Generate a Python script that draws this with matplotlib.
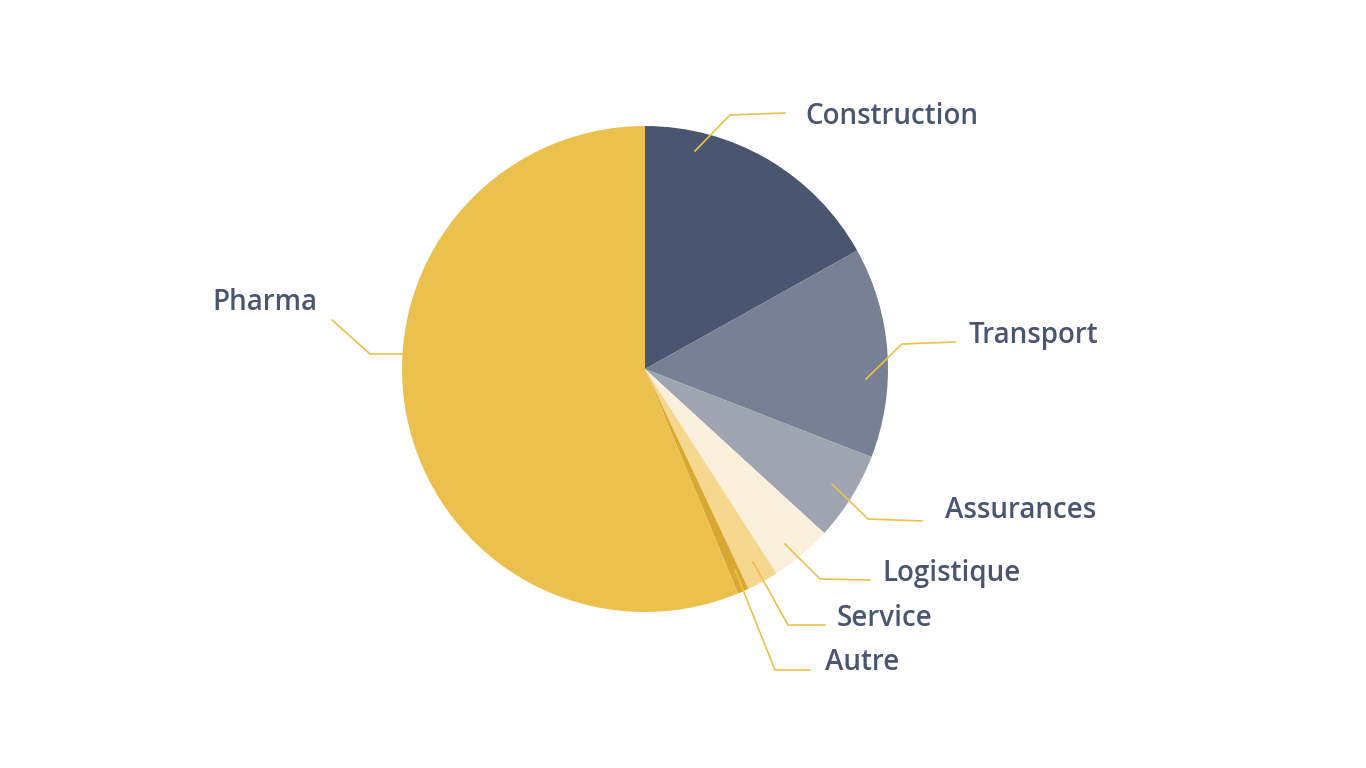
import matplotlib
matplotlib.use("Agg")
import matplotlib.pyplot as plt

categories = ["Construction", "Transport", "Assurances", "Logistique", "Service", "Autre", "Pharma"]
values = [16.9, 14.0, 5.9, 4.1, 2.1, 0.75, 56.25]
colors = ["#4a5670", "#778193", "#9ea4b0", "#faf0dc", "#f5d88e", "#d9a830", "#ecc04c"]

# leader layout in pixel coords (x, y from top): start, elbow, end, text position, alignment
leaders = {
    "Construction": [(695, 151), (730, 115), (785, 113), (805, 117), "left"],
    "Transport": [(866, 379), (902, 344), (955, 342), (969, 336), "left"],
    "Assurances": [(832, 484), (868, 519), (922, 521), (945, 510), "left"],
    "Logistique": [(785, 544), (820, 579), (870, 580), (882, 573), "left"],
    "Service": [(753, 562), (788, 625), (825, 625), (837, 618), "left"],
    "Autre": [(735, 570), (775, 670), (810, 670), (825, 663), "left"],
    "Pharma": [(403, 354), (370, 354), (332, 320), (317, 303), "right"],
}

H = 768
fig = plt.figure(figsize=(13.66, 7.68), dpi=100)
ax = fig.add_axes([0, 0, 1, 1])

ax.pie(values, colors=colors, startangle=90, counterclock=False,
       center=(645, H - 369), radius=243, wedgeprops=dict(linewidth=0),
       frame=True)
ax.set_xlim(0, 1366)
ax.set_ylim(0, H)
ax.set_aspect("equal")
ax.axis("off")

for name in categories:
    s, e, f, t, ha = leaders[name]
    xs = [s[0], e[0], f[0]]
    ys = [H - s[1], H - e[1], H - f[1]]
    ax.plot(xs, ys, color="#ecc04c", lw=1.2)
    ax.text(t[0], H - t[1], name, ha=ha, va="center", fontsize=20,
            fontfamily="Open Sans", fontweight="semibold", color="#4a5670")

fig.savefig("out.png", dpi=100, facecolor="white")
